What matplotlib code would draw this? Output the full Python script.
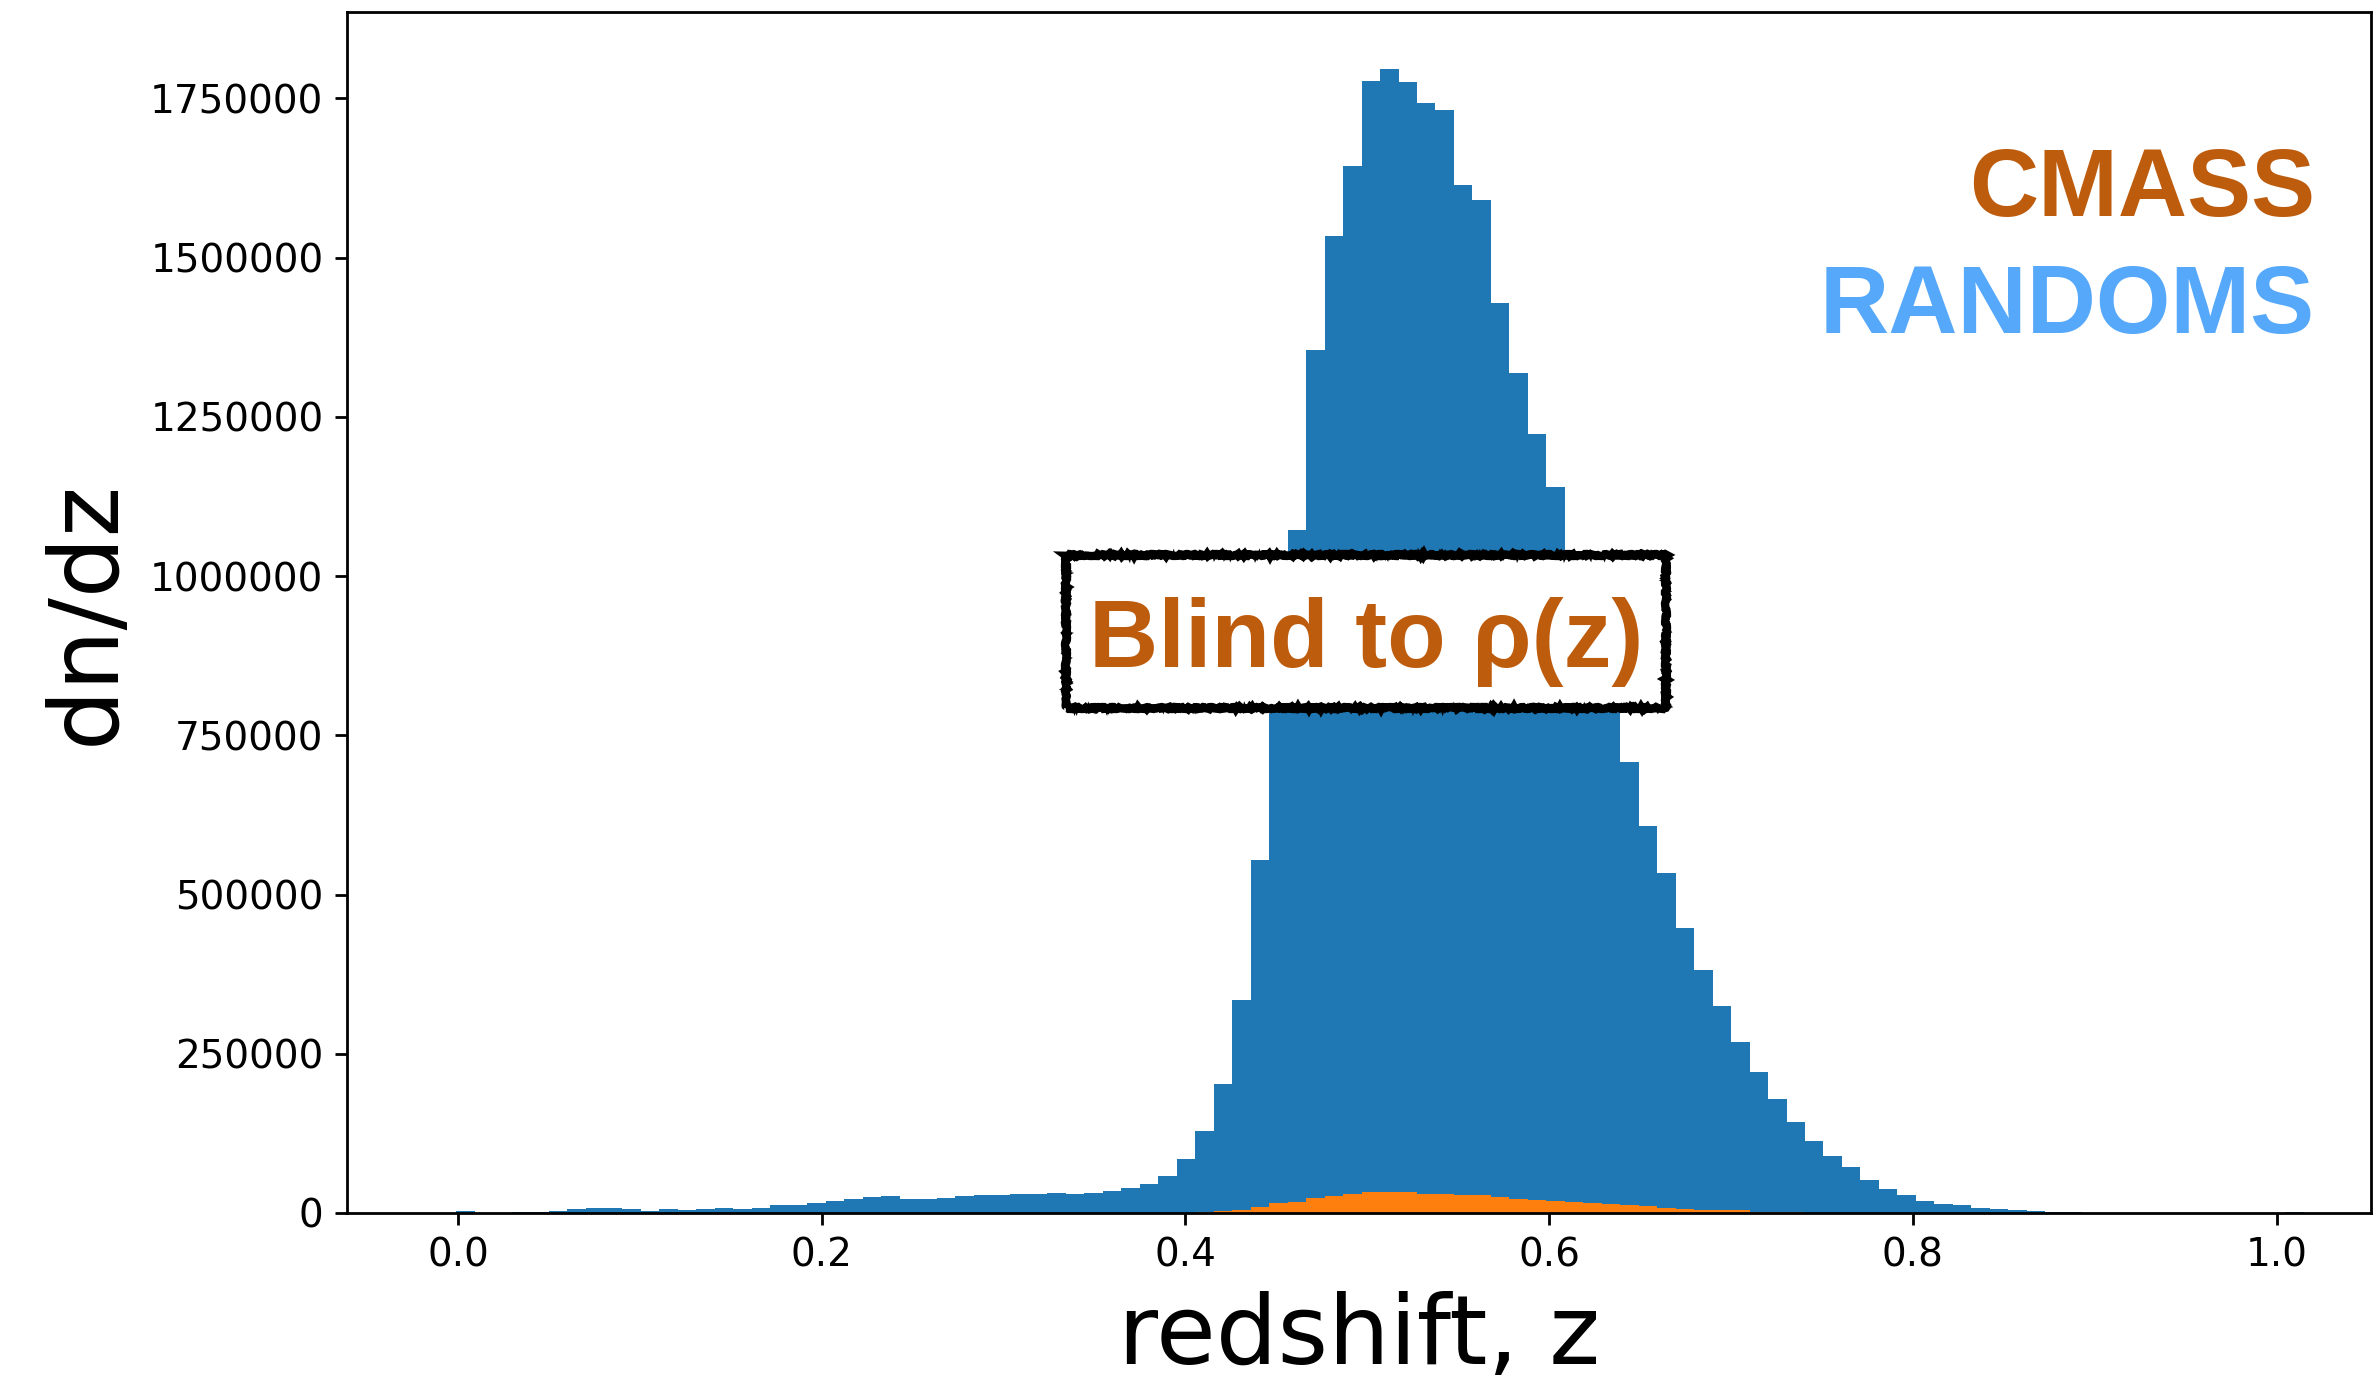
import numpy as np
import matplotlib.pyplot as plt
from matplotlib.patches import Rectangle

# binning of the redshift histogram
z_lo, z_hi, n_bins = -0.001, 1.015, 100

# counts per bin, RANDOMS (blue)
randoms = [
    3800, 200, 300, 1000, 1000, 3600, 6800, 8400, 8400, 6800,
    3600, 6800, 5200, 6800, 8400, 6800, 8400, 13100, 13100, 16200,
    19400, 22500, 25600, 27200, 22500, 22500, 23000, 26200, 27800, 27800,
    29300, 29300, 30900, 29300, 30900, 34000, 38700, 45000, 57600, 84000,
    128100, 201900, 334700, 554300, 800000, 1072800, 1355100, 1533900, 1643700, 1777000,
    1795800, 1775400, 1742500, 1731500, 1613900, 1590400, 1428800, 1319000, 1223400, 1140200,
    1040000, 925000, 810000, 707400, 608100, 533300, 447000, 381100, 324700, 268200,
    221100, 178800, 142700, 112900, 89400, 72100, 51300, 37200, 27800, 18300,
    13600, 12100, 7400, 5800, 4200, 2700, 1100, 800, 600, 500,
    400, 300, 300, 200, 200, 200, 100, 100, 200, 1500,
]

# counts per bin, CMASS (orange)
cmass = [0] * 38 + [
    300, 600, 1600, 2600, 4200, 8900, 15000, 17700, 24000, 27100,
    29200, 32300, 32300, 32300, 30300, 30300, 28700, 28700, 25600, 22400,
    20900, 19300, 17700, 16200, 13500, 11900, 10400, 8300, 6700, 5200,
    4100, 4100, 2000, 2000, 1000, 700, 500, 300, 200,
] + [0] * 23

edges = np.linspace(z_lo, z_hi, n_bins + 1)
centers = 0.5 * (edges[:-1] + edges[1:])

fig = plt.figure(figsize=(11.87, 6.885), dpi=200)
ax = fig.add_axes([0.1462, 0.1191, 0.8526, 0.8722])

ax.hist(centers, bins=edges, weights=randoms, color='C0')
ax.hist(centers, bins=edges, weights=cmass, color='C1')

ax.set_xlim(-0.061, 1.052)
ax.set_xticks([0.0, 0.2, 0.4, 0.6, 0.8, 1.0])
ax.set_yticks(np.arange(0, 1750001, 250000))
ax.ticklabel_format(axis='y', style='plain')
ax.tick_params(labelsize=14, length=4.3, width=1.0, pad=4.2)
for s in ax.spines.values():
    s.set_linewidth(1.0)

ax.set_xlabel('redshift, z', fontsize=35, labelpad=6)
ax.set_ylabel('dn/dz', fontsize=34.5, labelpad=6)

# labels in the top right corner
ax.text(0.9723, 0.8301, 'CMASS', transform=ax.transAxes, ha='right', va='baseline',
        fontsize=34.5, fontweight='bold', family='Liberation Sans', color='#BE5C0E')
ax.text(0.9723, 0.7327, 'RANDOMS', transform=ax.transAxes, ha='right', va='baseline',
        fontsize=34.5, fontweight='bold', family='Liberation Sans', color='#55A8FA')

# hand drawn looking box
box = Rectangle((0.3552, 0.4205), 0.2965, 0.1274, transform=ax.transAxes,
                fc='white', ec='black', lw=3.0, zorder=3)
box.set_sketch_params(scale=1.0, length=6, randomness=20)
ax.add_patch(box)
rough = Rectangle((0.3552, 0.4205), 0.2965, 0.1274, transform=ax.transAxes,
                  fc='none', ec='black', lw=1.2, zorder=3)
rough.set_sketch_params(scale=2.5, length=4, randomness=30)
ax.add_patch(rough)
ax.text(0.5035, 0.4546, 'Blind to ρ(z)', transform=ax.transAxes, ha='center', va='baseline',
        fontsize=34.5, fontweight='bold', family='Liberation Sans', color='#BE5C0E', zorder=4)

fig.savefig('out.png', dpi=200)
